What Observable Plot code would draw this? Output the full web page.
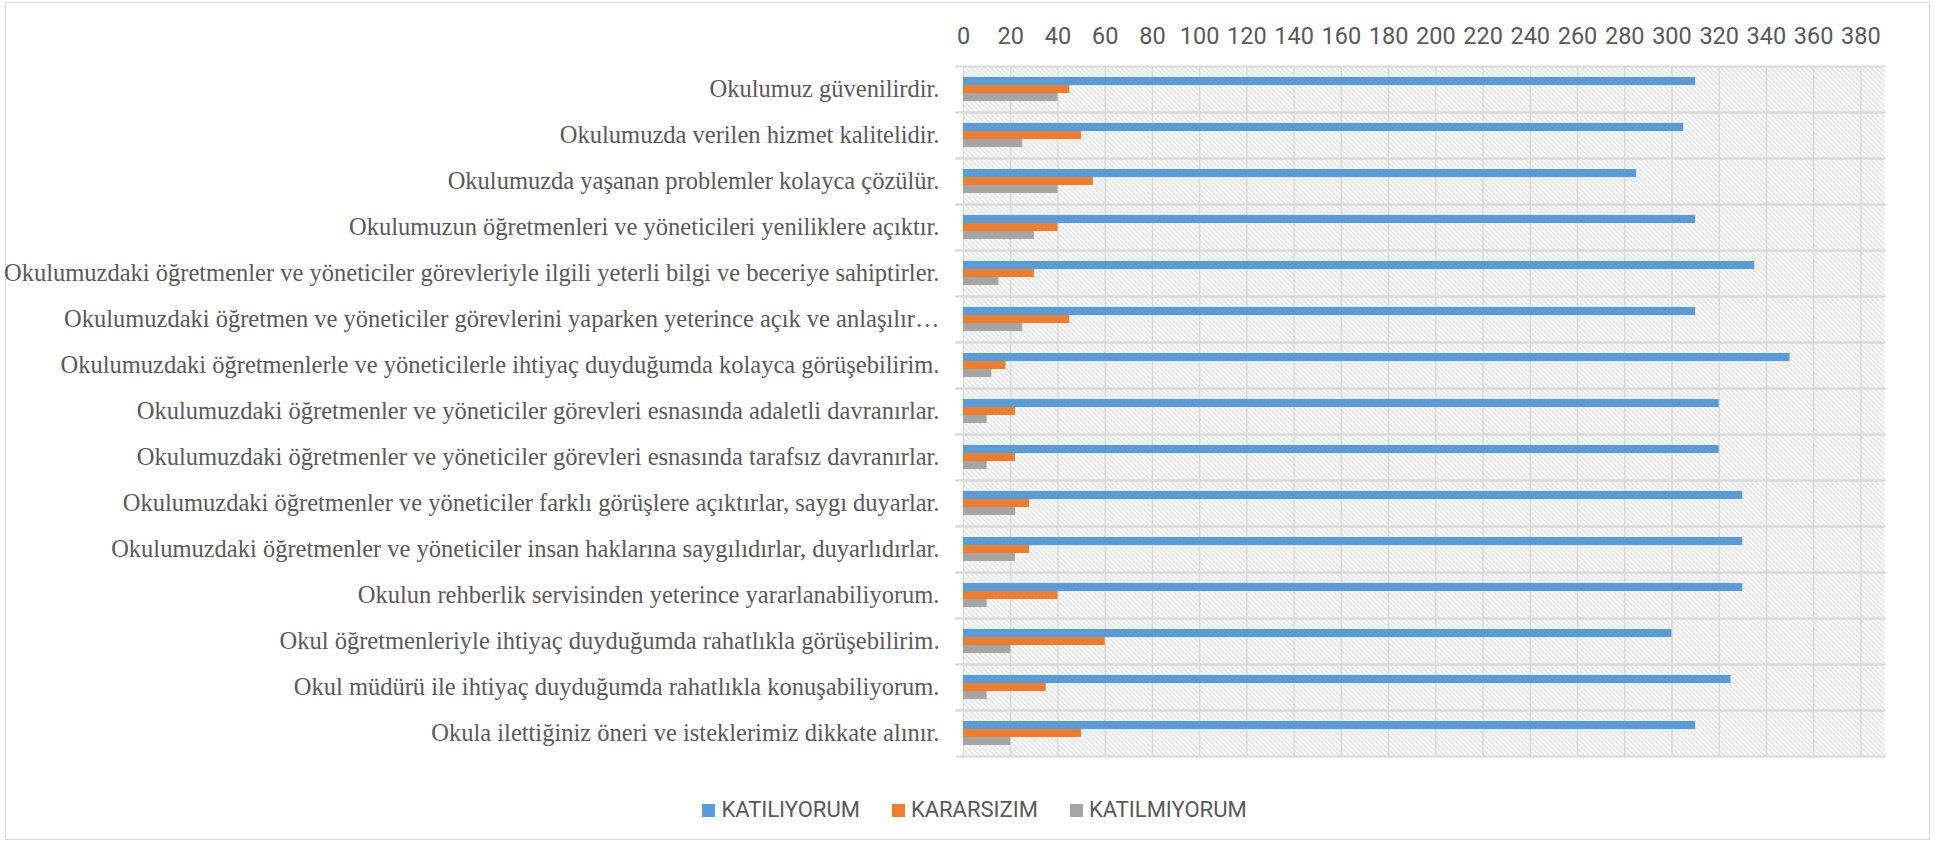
<!DOCTYPE html>
<html>
<head>
<meta charset="utf-8">
<script src="https://cdn.jsdelivr.net/npm/d3@7"></script>
<script src="https://cdn.jsdelivr.net/npm/@observablehq/plot@0.6"></script>
<style>
  html, body { margin: 0; padding: 0; background: #fff; }
  body { width: 1949px; height: 847px; position: relative; overflow: hidden; }
  #border { position: absolute; left: 5px; top: 2px; width: 1923px; height: 836px; border: 1.5px solid #d9d9d9; }
  #chart { position: absolute; left: 0; top: 0; }
  #legend { position: absolute; left: 0; top: 798px; width: 1949px; display: flex; justify-content: center; align-items: center;
            font-family: Roboto, sans-serif; font-size: 22px; color: #595959; line-height: 24px; }
  #legend .item { display: flex; align-items: center; margin: 0 16px; }
  #legend .sw { width: 13px; height: 13px; margin-right: 6px; }
</style>
</head>
<body>
<div id="border"></div>
<div id="chart"></div>
<div id="legend"></div>
<script>
const categories = [
  "Okulumuz güvenilirdir.",
  "Okulumuzda verilen hizmet kalitelidir.",
  "Okulumuzda yaşanan problemler kolayca çözülür.",
  "Okulumuzun öğretmenleri ve yöneticileri yeniliklere açıktır.",
  "Okulumuzdaki öğretmenler ve yöneticiler görevleriyle ilgili yeterli bilgi ve beceriye sahiptirler.",
  "Okulumuzdaki öğretmen ve yöneticiler görevlerini yaparken yeterince açık ve anlaşılır…",
  "Okulumuzdaki öğretmenlerle ve yöneticilerle ihtiyaç duyduğumda kolayca görüşebilirim.",
  "Okulumuzdaki öğretmenler ve yöneticiler görevleri esnasında adaletli davranırlar.",
  "Okulumuzdaki öğretmenler ve yöneticiler görevleri esnasında tarafsız davranırlar.",
  "Okulumuzdaki öğretmenler ve yöneticiler farklı görüşlere açıktırlar, saygı duyarlar.",
  "Okulumuzdaki öğretmenler ve yöneticiler insan haklarına saygılıdırlar, duyarlıdırlar.",
  "Okulun rehberlik servisinden yeterince yararlanabiliyorum.",
  "Okul öğretmenleriyle ihtiyaç duyduğumda rahatlıkla görüşebilirim.",
  "Okul müdürü ile ihtiyaç duyduğumda rahatlıkla konuşabiliyorum.",
  "Okula ilettiğiniz öneri ve isteklerimiz dikkate alınır."
];
const series = ["KATILIYORUM", "KARARSIZIM", "KATILMIYORUM"];
const katiliyorum  = [310, 305, 285, 310, 335, 310, 350, 320, 320, 330, 330, 330, 300, 325, 310];
const kararsizim   = [45, 50, 55, 40, 30, 45, 18, 22, 22, 28, 28, 40, 60, 35, 50];
const katilmiyorum = [40, 25, 40, 30, 15, 25, 12, 10, 10, 22, 22, 10, 20, 10, 20];
const colors = ["#5B9BD5", "#ED7D31", "#A5A5A5"];
const xTicks = [0, 20, 40, 60, 80, 100, 120, 140, 160, 180, 200, 220, 240, 260, 280, 300, 320, 340, 360, 380];
const xMax = 390;

const valuesBySeries = [katiliyorum, kararsizim, katilmiyorum];
const table = categories.flatMap((c, i) => series.map((s, j) => ({category: c, series: s, value: valuesBySeries[j][i]})));

const grid = "#d9d9d9";
const plot = Plot.plot({
  width: 1949,
  height: 767,
  marginLeft: 963,
  marginRight: 65,
  marginTop: 64,
  marginBottom: 10,
  x: {domain: [0, xMax]},
  y: {domain: series, paddingInner: 0, paddingOuter: 1.27, axis: null},
  fy: {domain: categories, padding: 0},
  color: {domain: series, range: colors},
  marks: [
    Plot.frame({fill: "url(#hatch)", stroke: null}),
    Plot.ruleX(xTicks, {stroke: grid, strokeWidth: 1.5}),
    Plot.frame({anchor: "top", stroke: grid, strokeWidth: 2.2, insetLeft: -7}),
    Plot.frame({anchor: "bottom", stroke: grid, strokeWidth: 2.2, insetLeft: -7}),
    Plot.barX(table, {x: "value", y: "series", fy: "category", fill: "series", insetTop: 0, insetBottom: 0}),
    Plot.axisX({anchor: "top", ticks: xTicks, tickSize: 0, tickPadding: 23, label: null, fontSize: 23.5, fontFamily: "Roboto", fill: "#595959"}),
    Plot.axisFy({anchor: "left", tickSize: 0, tickPadding: 24, label: null, fontSize: 24.5, fontFamily: "Liberation Serif", fill: "#595959"})
  ]
});
const svg = d3.select(plot);
svg.style("overflow", "visible");
const defs = svg.insert("defs", ":first-child");
const pat = defs.append("pattern").attr("id", "hatch").attr("patternUnits", "userSpaceOnUse")
  .attr("width", 5).attr("height", 5);
pat.append("rect").attr("width", 5).attr("height", 5).attr("fill", "#ffffff");
pat.append("path").attr("d", "M0,0L5,5M-1,4L1,6M4,-1L6,1")
  .attr("stroke", "#d9d9d9").attr("stroke-width", 1.3).attr("fill", "none");
document.getElementById("chart").appendChild(plot);

const legend = d3.select("#legend");
series.forEach((s, i) => {
  const item = legend.append("div").attr("class", "item");
  item.append("div").attr("class", "sw").style("background", colors[i]);
  item.append("span").text(s);
});
</script>
</body>
</html>
